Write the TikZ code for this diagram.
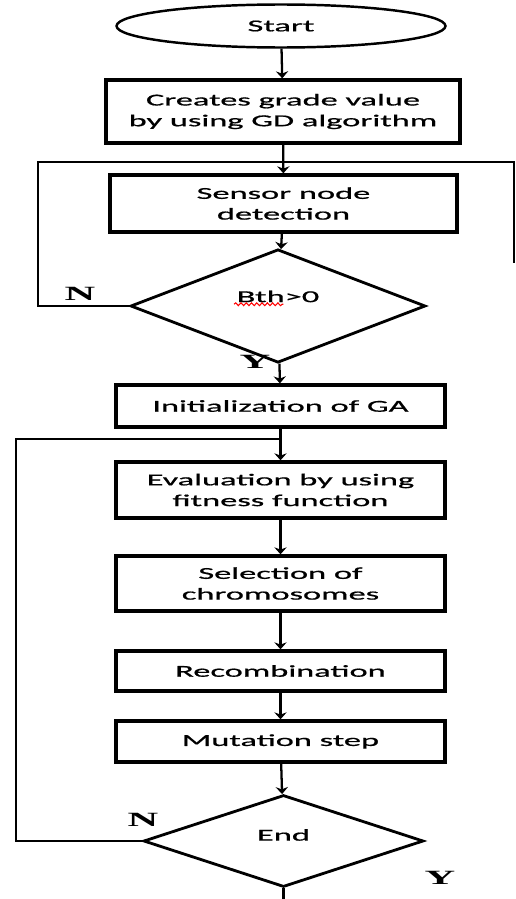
\documentclass[tikz,border=0pt]{standalone}
\usepackage{fontspec}
\setmainfont{Liberation Serif}
\newfontfamily\boxfont[FakeStretch=2.06,FakeBold=0.8]{Carlito}
\newfontfamily\ynfont[FakeStretch=2.1]{Liberation Serif}
\usetikzlibrary{shapes.geometric,arrows.meta,decorations.pathmorphing}

\begin{document}
\begin{tikzpicture}[x=0.02cm,y=-0.02cm,
  every node/.style={font=\boxfont\fontsize{9.5}{11.8}\selectfont,align=center},
  box/.style={draw,line width=1.9pt,minimum width=6.58cm,inner sep=0pt},
  term/.style={draw,ellipse,line width=1.4pt,minimum width=6.58cm,minimum height=0.86cm,inner sep=0pt},
  decision/.style={draw,diamond,line width=1.6pt,inner sep=0pt},
  lbl/.style={font=\ynfont\bfseries\fontsize{11.5}{12}\selectfont},
  flow/.style={line width=1.3pt,-{Stealth[length=4pt,width=7pt]}},
  back/.style={line width=1pt}]

\useasboundingbox (0,0) rectangle (516,899);

\node[term](start) at (281,26) {Start};
\node[box,minimum width=7.08cm,minimum height=1.26cm](gd) at (283,111.5) {Creates grade value\\by using GD algorithm};
\node[box,minimum width=6.94cm,minimum height=1.14cm](sensor) at (283.5,203.5) {Sensor node\\detection};
\node[decision,minimum width=5.9cm,minimum height=1.9cm](bth) at (278,306) {\raisebox{11pt}{Bth>0}};
\node[box,minimum height=0.84cm](init) at (280.5,406) {Initialization of GA};
\node[box,minimum height=1.12cm](eval) at (280.5,490) {Evaluation by using\\fitness function};
\node[box,minimum height=1.1cm](sel) at (280.5,583.5) {Selection of\\chromosomes};
\node[box,minimum height=0.8cm](recomb) at (280.5,671) {Recombination};
\node[box,minimum height=0.82cm](mut) at (280.5,741.5) {Mutation step};
\node[decision,minimum width=5.6cm,minimum height=1.84cm](end) at (283.5,841) {\raisebox{7pt}{End}};

\node[lbl](n1) at (80,294) {N};
\node[lbl](y1) at (255,362) {Y};
\node[lbl](n2) at (143,820) {N};
\node[lbl](y2) at (440,878) {Y};

\coordinate(j1) at (283,162);
\coordinate(l1) at (38,162);
\coordinate(r1) at (514,263);
\coordinate(j2) at (280.5,439);
\coordinate(l2) at (16,439);
\coordinate(out) at (283.5,899);

\draw[flow](start)--(gd);
\draw[flow](gd)--(sensor);
\draw[flow](sensor)--(bth);
\draw[back](bth.west)-|(l1)-|(r1);
\draw[flow](bth)--(init);
\draw[flow](init)--(eval);
\draw[flow](eval)--(sel);
\draw[flow](sel)--(recomb);
\draw[flow](recomb)--(mut);
\draw[flow](mut)--(end);
\draw[back](end.west)-|(l2)--(j2);
\draw[line width=1.3pt](end.south)--(out);

\draw[red,line width=0.6pt,decorate,decoration={snake,amplitude=0.8pt,segment length=3pt}]
  ([xshift=-25pt,yshift=1pt]bth.center)--([xshift=3pt,yshift=1pt]bth.center);
\end{tikzpicture}
\end{document}
